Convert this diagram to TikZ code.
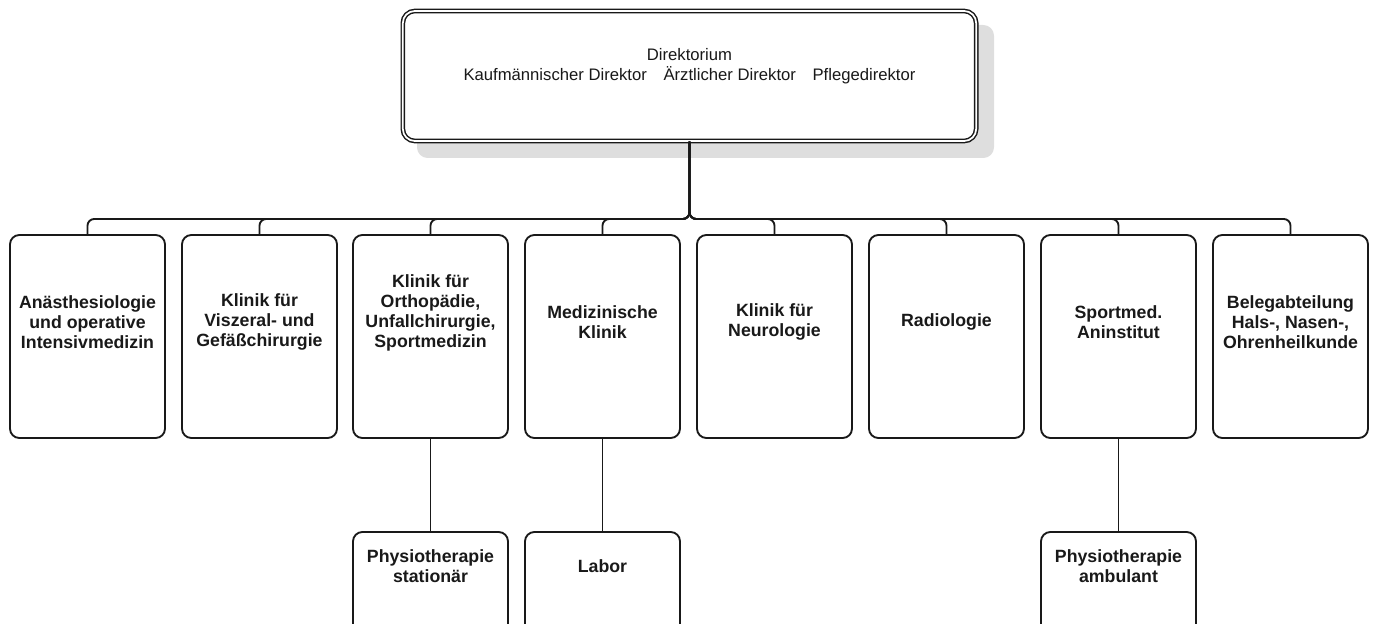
\documentclass[tikz,border=0pt]{standalone}
\usepackage{fontspec}
\setmainfont{Liberation Sans}
\usetikzlibrary{positioning}

\tikzset{
  unit/.style={draw=black!90, line width=1.4pt, rounded corners=7pt, fill=white,
    minimum width=116.25pt, minimum height=152.25pt, inner sep=0pt},
  subunit/.style={unit, minimum height=90pt},
  unittext/.style={align=center, text=black!90,
    font=\fontsize{13.3}{15}\selectfont\bfseries},
  conn/.style={draw=black!90, line width=1.4pt, rounded corners=5pt},
}

\begin{document}
\begin{tikzpicture}[x=0.75pt, y=-0.75pt]
    % 1. Bildausschnitt
    \useasboundingbox (0,0) rectangle (1375,624);
    \clip (0,0) rectangle (1375,624);

    % 2. Direktorium mit Schatten
    \fill[black!13, rounded corners=8pt] (417,25) rectangle (994,158);
    \node[draw=black!90, double=white, double distance=1.3pt, line width=1.1pt,
          rounded corners=9pt, fill=white, minimum width=430pt, minimum height=97.5pt]
          (dir) at (689.5,76) {};
    \node[align=center, text=black!90, font=\fontsize{12.5}{15}\selectfont]
          (dir-t) at (689.5,66.5)
          {Direktorium\\Kaufmännischer Direktor\quad Ärztlicher Direktor\quad Pflegedirektor};
    \coordinate (bus) at (689.5,219);

    % 3. Kliniken
    \node[unit] (anae)  at (87.5,336.5)   {};
    \node[unit] (visz)  at (259.5,336.5)  {};
    \node[unit] (ortho) at (430.5,336.5)  {};
    \node[unit] (med)   at (602.5,336.5)  {};
    \node[unit] (neuro) at (774.5,336.5)  {};
    \node[unit] (radio) at (946.5,336.5)  {};
    \node[unit] (sport) at (1118.5,336.5) {};
    \node[unit] (hno)   at (1290.5,336.5) {};

    \node[unittext] (anae-t)  at (87.5,322)   {Anästhesiologie\\und operative\\Intensivmedizin};
    \node[unittext] (visz-t)  at (259.5,322)  {Klinik für\\Viszeral- und\\Gefäßchirurgie};
    \node[unittext] (ortho-t) at (430.5,312.5){Klinik für\\Orthopädie,\\Unfallchirurgie,\\Sportmedizin};
    \node[unittext] (med-t)   at (602.5,322)  {Medizinische\\Klinik};
    \node[unittext] (neuro-t) at (774.5,322)  {Klinik für\\Neurologie};
    \node[unittext] (radio-t) at (946.5,322)  {Radiologie};
    \node[unittext] (sport-t) at (1118.5,322) {Sportmed.\\Aninstitut};
    \node[unittext] (hno-t)   at (1290.5,322) {Belegabteilung\\Hals-, Nasen-,\\Ohrenheilkunde};

    % 4. Verbindungen zum Direktorium
    \draw[conn] (dir.south) -- (bus) -| (anae.north);
    \draw[conn] (dir.south) -- (bus) -| (visz.north);
    \draw[conn] (dir.south) -- (bus) -| (ortho.north);
    \draw[conn] (dir.south) -- (bus) -| (med.north);
    \draw[conn] (dir.south) -- (bus) -| (neuro.north);
    \draw[conn] (dir.south) -- (bus) -| (radio.north);
    \draw[conn] (dir.south) -- (bus) -| (sport.north);
    \draw[conn] (dir.south) -- (bus) -| (hno.north);

    % 5. Untereinheiten
    \node[subunit] (physst) at (430.5,592)  {};
    \node[subunit] (labor)  at (602.5,592)  {};
    \node[subunit] (physam) at (1118.5,592) {};

    \node[unittext] (physst-t) at (430.5,566)  {Physiotherapie\\stationär};
    \node[unittext] (labor-t)  at (602.5,566)  {Labor};
    \node[unittext] (physam-t) at (1118.5,566) {Physiotherapie\\ambulant};

    \draw[conn] (ortho.south) -- (physst.north);
    \draw[conn] (med.south)   -- (labor.north);
    \draw[conn] (sport.south) -- (physam.north);
\end{tikzpicture}
\end{document}
